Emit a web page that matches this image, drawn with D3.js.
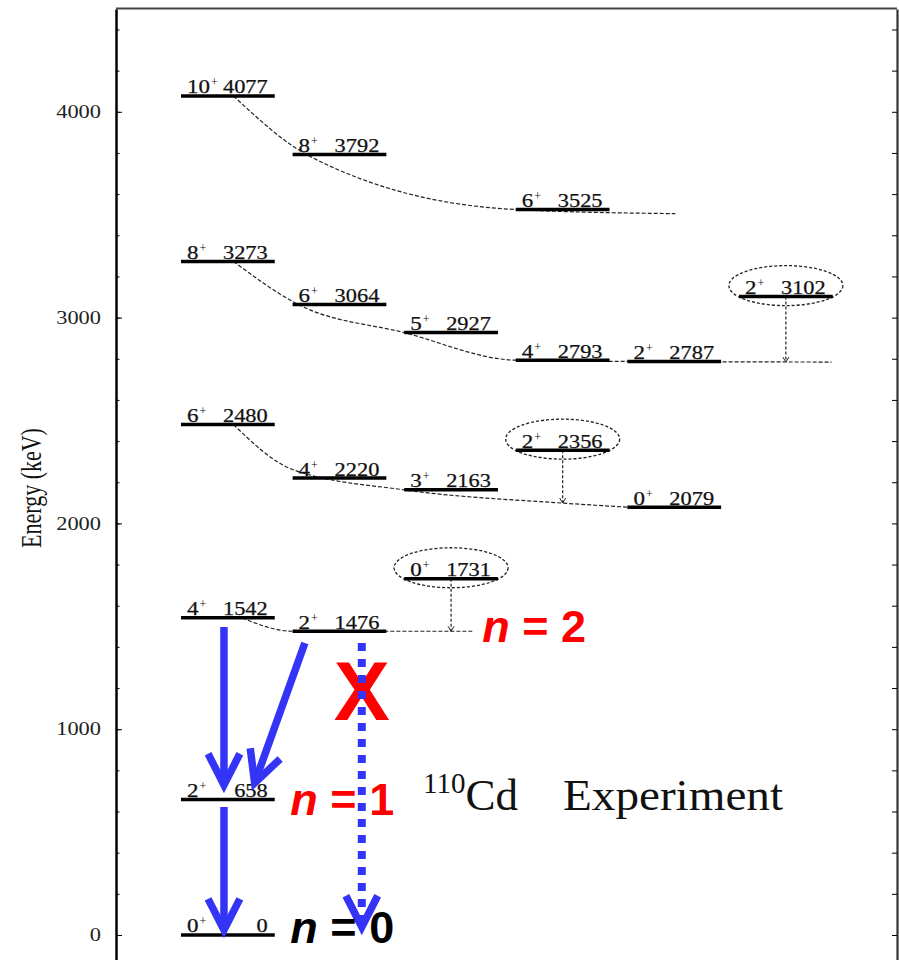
<!DOCTYPE html>
<html>
<head>
<meta charset="utf-8">
<script src="https://cdn.jsdelivr.net/npm/d3@7"></script>
<style>
body{margin:0;background:#fff;}
</style>
</head>
<body>
<script>
// Level scheme of 110Cd
const levelSpin=["10","8","6","8","6","5","4","2","2","6","4","3","2","0","4","2","0","2","0"];
const levelEnergy=[4077,3792,3525,3273,3064,2927,2793,2787,3102,2480,2220,2163,2356,2079,1542,1476,1731,658,0];
const levelCol=[0,1,3,0,1,2,3,4,5,0,1,2,3,4,0,1,2,0,0];
// circled levels and the energy where their dotted drop lands
const circledEnergy=[3102,2356,1731];
const circledDrop=[2784,2099,1476];

// dashed band curves: [column, energy]
const bandA=[[0.47,4077],[1.15,3785],[3.0,3525],[4.43,3505]];
const bandB=[[0.47,3273],[1.05,3064],[2.0,2927],[3.0,2793],[4.0,2787],[5.83,2784]];
const bandC=[[0.47,2480],[1.0,2262],[2.0,2163],[3.41,2099],[4.0,2079]];
const bandD=[[0.55,1540],[1.0,1476],[2.61,1476]];

// blue transitions: from / to [column, energy]
const arrowFrom=[[0.385,1497],[1.11,1419],[0.385,622],[1.62,1419]];
const arrowTo=[[0.385,729],[0.66,739],[0.385,24],[1.62,39]];
const arrowDotted=[false,false,false,true];

// tick values
const majorTicks=[0,1000,2000,3000,4000];
const minorTicks=d3.range(0,4600,200);

// phonon-number labels
const nLabels=["2","1","0"];
const nPos=[[2.7,1425],[0.98,585],[0.98,-40]];
const nColor=["#ff0000","#ff0000","#000000"];

const w=899,h=960;
const serif='"Liberation Serif","Times New Roman",serif';
const sans='"Liberation Sans",Arial,sans-serif';

const svg=d3.select('body').append('svg').attr('width',w).attr('height',h);

const yScale=d3.scaleLinear().domain([-130,4500]).range([961.75,8.9]);
const xScale=d3.scaleLinear().domain([0,6]).range([181,850.6]);
const colW=0.84;

// frame top and right
svg.append('line').attr('x1',116).attr('x2',897).attr('y1',8.5).attr('y2',8.5)
  .attr('stroke','#444').attr('stroke-width',2.2);
const rightAxis=svg.append('g').attr('transform','translate(897,0)')
  .call(d3.axisRight(yScale).tickValues(minorTicks).tickSize(-5).tickSizeOuter(0).tickFormat(''));
rightAxis.select('.domain').attr('stroke','#333').attr('stroke-width',2.2);

// left axis: minor then major
const leftMinor=svg.append('g').attr('transform','translate(116,0)')
  .call(d3.axisLeft(yScale).tickValues(minorTicks).tickSize(-3.5).tickSizeOuter(0).tickFormat(''));
leftMinor.select('.domain').attr('stroke','#000').attr('stroke-width',2.5);
const leftMajor=svg.append('g').attr('transform','translate(116,0)')
  .call(d3.axisLeft(yScale).tickValues(majorTicks).tickSize(-6).tickSizeOuter(0).tickPadding(15).tickFormat(d=>d));
leftMajor.select('.domain').remove();
leftMajor.selectAll('text').attr('font-family',serif).attr('font-size',18).attr('fill','#222')
  .attr('textLength',d=>String(d).length*11.2).attr('lengthAdjust','spacingAndGlyphs');

svg.append('text').text('Energy (keV)')
  .attr('transform','translate(41,488) scale(1.3,1) rotate(-90)')
  .attr('text-anchor','middle').attr('font-family',serif).attr('font-size',22).attr('fill','#111');

// dashed band curves
const line=d3.line().x(d=>xScale(d[0])).y(d=>yScale(d[1])).curve(d3.curveMonotoneX);
[bandA,bandB,bandC,bandD].forEach(b=>{
  svg.append('path').attr('d',line(b)).attr('fill','none').attr('stroke','#222')
    .attr('stroke-width',1.2).attr('stroke-dasharray','4,2');
});

// drop lines from circled levels
circledEnergy.forEach((e,i)=>{
  const k=levelEnergy.indexOf(e);
  const cx=xScale(levelCol[k]+colW/2);
  svg.append('line').attr('x1',cx).attr('x2',cx).attr('y1',yScale(e)).attr('y2',yScale(circledDrop[i]))
    .attr('stroke','#222').attr('stroke-width',1.2).attr('stroke-dasharray','3,2');
  svg.append('path').attr('d',`M${cx-3},${yScale(circledDrop[i])-5}L${cx},${yScale(circledDrop[i])}L${cx+3},${yScale(circledDrop[i])-5}`)
    .attr('fill','none').attr('stroke','#222').attr('stroke-width',1);
  svg.append('ellipse').attr('cx',cx).attr('cy',yScale(e)-11).attr('rx',57).attr('ry',20)
    .attr('fill','none').attr('stroke','#222').attr('stroke-width',1.3).attr('stroke-dasharray','3,2');
});

// levels
levelEnergy.forEach((e,i)=>{
  const x0=xScale(levelCol[i]),x1=xScale(levelCol[i]+colW),y=yScale(e);
  svg.append('line').attr('x1',x0).attr('x2',x1).attr('y1',y).attr('y2',y)
    .attr('stroke','#000').attr('stroke-width',3.5);
  svg.append('text').text(levelSpin[i]).attr('x',x0+6).attr('y',y-2.5)
    .attr('font-family',serif).attr('font-size',19).attr('fill','#111')
    .attr('stroke','#111').attr('stroke-width',0.25)
    .attr('textLength',levelSpin[i].length*11.5).attr('lengthAdjust','spacingAndGlyphs');
  svg.append('text').text('+').attr('x',x0+7+levelSpin[i].length*11.5).attr('y',y-9.5)
    .attr('font-family',serif).attr('font-size',12).attr('fill','#111');
  const es=String(e);
  svg.append('text').text(es).attr('x',x1-7).attr('y',y-2.5).attr('text-anchor','end')
    .attr('font-family',serif).attr('font-size',19).attr('fill','#111')
    .attr('stroke','#111').attr('stroke-width',0.25)
    .attr('textLength',es.length*11.2).attr('lengthAdjust','spacingAndGlyphs');
});

// red X over the forbidden transition
svg.append('text').text('X').attr('x',xScale(1.62)).attr('y',720).attr('text-anchor','middle')
  .attr('font-family',sans).attr('font-weight','bold').attr('font-size',84).attr('fill','#ff0000');

// blue transition arrows
const blue='#3434f6';
arrowFrom.forEach((f,i)=>{
  const fx=xScale(f[0]),fy=yScale(f[1]),tx=xScale(arrowTo[i][0]),ty=yScale(arrowTo[i][1]);
  svg.append('line').attr('x1',fx).attr('y1',fy).attr('x2',tx).attr('y2',ty)
    .attr('stroke',blue).attr('stroke-width',arrowDotted[i]?8:7.5)
    .attr('stroke-dasharray',arrowDotted[i]?'8,8':null);
  const a=Math.atan2(fy-ty,fx-tx),L=35,sp=27*Math.PI/180;
  const pts=[[tx+L*Math.cos(a-sp),ty+L*Math.sin(a-sp)],[tx,ty],[tx+L*Math.cos(a+sp),ty+L*Math.sin(a+sp)]];
  svg.append('path').attr('d',d3.line()(pts)).attr('fill','none').attr('stroke',blue)
    .attr('stroke-width',7.5).attr('stroke-linejoin','miter');
});

// n labels
nLabels.forEach((n,i)=>{
  const t=svg.append('text').attr('x',xScale(nPos[i][0])).attr('y',yScale(nPos[i][1]))
    .attr('font-family',sans).attr('font-weight','bold').attr('font-size',45).attr('fill',nColor[i]);
  t.append('tspan').attr('font-style','italic').text('n');
  t.append('tspan').text(' = '+n);
});

// nucleus label
const cd=svg.append('text').attr('x',423).attr('y',810).attr('font-family',serif).attr('fill','#111');
cd.append('tspan').attr('font-size',29).attr('dy',-17).text('110');
cd.append('tspan').attr('font-size',45).attr('dy',17).text('Cd');
svg.append('text').attr('x',563).attr('y',810).attr('font-family',serif).attr('font-size',45)
  .attr('fill','#111').attr('textLength',220).attr('lengthAdjust','spacingAndGlyphs').text('Experiment');
</script>
</body>
</html>
